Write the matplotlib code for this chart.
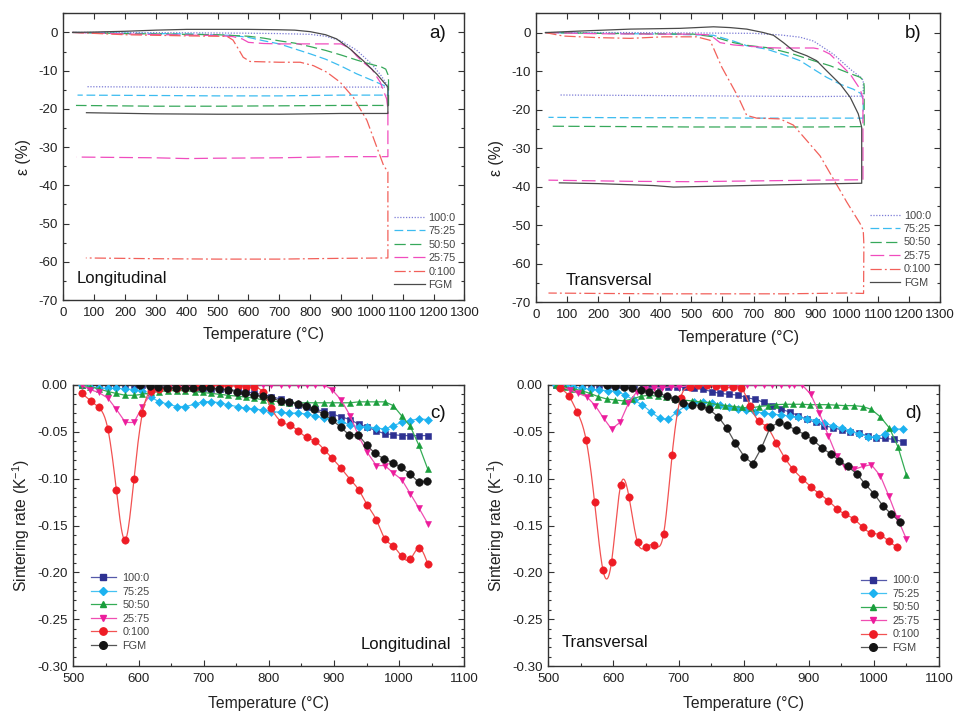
import numpy as np
import matplotlib
matplotlib.use("Agg")
import matplotlib.pyplot as plt
from matplotlib.ticker import MultipleLocator, FormatStrFormatter

plt.rcParams['font.family'] = ['Liberation Sans', 'DejaVu Sans']
plt.rcParams['axes.unicode_minus'] = False
plt.rcParams['mathtext.default'] = 'regular'

labels = ['100:0', '75:25', '50:50', '25:75', '0:100', 'FGM']

# ---------------- dilatometric strain, longitudinal (a) ----------------
a_T_100 = [30, 200, 400, 600, 700, 800, 850, 900, 950, 1000, 1030, 1050, 1052, 900, 700, 500, 300, 78]
a_E_100 = [0, 0, -0.1, -0.2, -0.3, -0.5, -1.0, -2.2, -4.6, -8.3, -11.3, -13.8, -14.3, -14.3, -14.4, -14.4, -14.3, -14.2]
a_T_75 = [30, 200, 400, 550, 600, 650, 700, 750, 800, 850, 900, 950, 1000, 1040, 1050, 1053, 1053, 900, 700, 500, 300, 46]
a_E_75 = [0, -0.2, -0.4, -0.8, -1.3, -2.2, -3.0, -4.3, -5.6, -7.0, -8.8, -10.8, -12.5, -13.9, -14.4, -15.0, -16.4, -16.4, -16.6, -16.6, -16.5, -16.4]
a_T_50 = [30, 200, 400, 500, 550, 600, 650, 700, 750, 800, 850, 900, 950, 1000, 1030, 1045, 1052, 1054, 1054, 900, 700, 500, 300, 41]
a_E_50 = [0, -0.3, -0.5, -0.6, -0.8, -1.0, -1.5, -2.2, -2.8, -3.7, -4.7, -5.9, -7.2, -8.4, -9.0, -9.6, -11.0, -12.5, -19.1, -19.1, -19.2, -19.3, -19.3, -19.1]
a_T_25 = [30, 200, 400, 500, 550, 580, 600, 650, 700, 800, 900, 930, 950, 975, 1000, 1027, 1048, 1052, 1052, 900, 700, 500, 400, 300, 43]
a_E_25 = [0, -0.4, -0.7, -0.8, -1.1, -1.7, -2.6, -2.9, -3.0, -3.0, -3.0, -4.2, -6.1, -8.0, -9.6, -13.0, -17.4, -20.0, -32.5, -32.5, -32.8, -32.9, -33.0, -32.8, -32.6]
a_T_0 = [30, 200, 400, 500, 530, 550, 565, 583, 605, 700, 768, 811, 854, 897, 940, 984, 1016, 1038, 1052, 1052, 900, 700, 500, 300, 73]
a_E_0 = [0, -0.6, -0.9, -1.0, -1.0, -2.0, -4.0, -6.5, -7.6, -7.8, -7.8, -8.7, -10.4, -13.0, -17.0, -23.0, -30.0, -34.8, -36.5, -59.0, -59.1, -59.3, -59.3, -59.2, -59.0]
a_T_F = [30, 100, 200, 300, 400, 500, 600, 700, 750, 800, 850, 886, 929, 972, 1016, 1048, 1052, 1052, 900, 700, 500, 300, 75]
a_E_F = [0, 0.1, 0.3, 0.6, 0.8, 0.8, 0.8, 0.7, 0.6, 0.2, -0.6, -1.7, -4.3, -7.4, -10.9, -13.9, -14.3, -21.2, -21.2, -21.4, -21.4, -21.3, -21.0]

# ---------------- dilatometric strain, transversal (b) ----------------
b_T_100 = [30, 300, 500, 700, 785, 850, 893, 957, 1011, 1048, 1053, 1053, 900, 700, 500, 300, 75]
b_E_100 = [0, 0, -0.1, -0.2, -0.6, -1.2, -2.2, -5.6, -9.5, -11.8, -12.5, -16.5, -16.6, -16.5, -16.4, -16.3, -16.2]
b_T_75 = [30, 200, 421, 571, 635, 678, 742, 807, 850, 893, 935, 979, 1021, 1045, 1053, 1053, 900, 700, 500, 300, 40]
b_E_75 = [0, -0.2, -0.4, -0.7, -2.2, -3.4, -4.3, -6.0, -7.3, -9.5, -11.6, -13.4, -14.7, -15.8, -17.5, -22.2, -22.2, -22.2, -22.1, -22.1, -22.0]
b_T_50 = [30, 200, 506, 571, 635, 678, 742, 785, 828, 893, 946, 1000, 1043, 1054, 1056, 1056, 900, 700, 500, 300, 40]
b_E_50 = [0, -0.2, -0.4, -1.1, -2.6, -3.3, -3.9, -4.7, -5.6, -7.3, -8.6, -10.3, -11.6, -12.5, -14.0, -24.4, -24.5, -24.5, -24.5, -24.4, -24.3]
b_T_25 = [30, 200, 400, 506, 560, 592, 635, 742, 785, 893, 914, 946, 979, 1011, 1043, 1052, 1052, 900, 700, 500, 300, 40]
b_E_25 = [0, -0.3, -0.4, -0.4, -0.6, -2.6, -3.2, -3.9, -4.0, -4.0, -4.3, -5.6, -8.2, -10.8, -14.7, -17.0, -38.2, -38.3, -38.5, -38.7, -38.6, -38.3]
b_T_0 = [30, 88, 195, 303, 410, 517, 560, 598, 651, 678, 710, 785, 828, 871, 914, 957, 1000, 1043, 1053, 1055, 1054, 1000, 800, 600, 400, 200, 40]
b_E_0 = [0, -0.9, -1.3, -1.5, -1.1, -1.1, -2.0, -9.0, -16.8, -21.5, -22.2, -22.4, -24.0, -28.0, -32.0, -38.0, -44.0, -49.6, -51.3, -55.0, -67.7, -67.6, -67.8, -67.8, -67.8, -67.7, -67.6]
b_T_F = [30, 142, 303, 464, 571, 624, 678, 732, 764, 796, 828, 871, 903, 935, 979, 1011, 1037, 1048, 1048, 900, 678, 500, 442, 378, 200, 75]
b_E_F = [0, 0.4, 0.9, 1.1, 1.5, 1.3, 0.9, 0, -0.7, -2.6, -4.7, -6.0, -7.3, -9.9, -13.4, -16.8, -21.1, -24.6, -39.1, -39.3, -39.7, -40.0, -40.1, -39.7, -39.2, -39.0]

# ---------------- sintering rate, longitudinal (c) ----------------
c_T_100 = [513, 526, 539, 553, 566, 580, 593, 606, 619, 632, 646, 659, 672, 686, 699, 712, 725, 738, 752, 765, 778, 791, 804, 818, 831, 845, 858, 871, 885, 897, 911, 925, 938, 951, 965, 978, 991, 1004, 1017, 1030, 1044]
c_R_100 = [0, 0, 0, 0, 0, 0, 0, -0.0005, -0.001, -0.001, -0.002, -0.002, -0.002, -0.003, -0.003, -0.004, -0.004, -0.005, -0.006, -0.007, -0.009, -0.010, -0.0125, -0.015, -0.018, -0.021, -0.023, -0.026, -0.028, -0.031, -0.034, -0.037, -0.042, -0.045, -0.049, -0.052, -0.053, -0.054, -0.054, -0.054, -0.054]
c_T_75 = [513, 526, 539, 553, 566, 580, 593, 606, 619, 632, 646, 659, 672, 686, 699, 712, 725, 738, 752, 765, 778, 791, 804, 818, 831, 845, 858, 871, 885, 897, 911, 925, 938, 951, 965, 978, 991, 1004, 1017, 1030, 1044]
c_R_75 = [0, -0.002, -0.003, -0.0035, -0.0036, -0.004, -0.005, -0.006, -0.013, -0.018, -0.0206, -0.023, -0.023, -0.0206, -0.0178, -0.0178, -0.019, -0.0214, -0.023, -0.025, -0.0256, -0.0267, -0.0285, -0.029, -0.030, -0.030, -0.031, -0.033, -0.0356, -0.037, -0.039, -0.043, -0.0445, -0.0445, -0.046, -0.047, -0.0434, -0.040, -0.038, -0.036, -0.037]
c_T_50 = [513, 526, 539, 553, 566, 580, 593, 606, 619, 632, 646, 659, 672, 686, 699, 712, 725, 738, 752, 765, 778, 791, 804, 818, 831, 845, 858, 871, 885, 897, 911, 925, 938, 951, 965, 978, 991, 1004, 1017, 1030, 1044]
c_R_50 = [0, -0.002, -0.004, -0.007, -0.009, -0.011, -0.011, -0.010, -0.008, -0.007, -0.006, -0.006, -0.006, -0.007, -0.008, -0.009, -0.010, -0.011, -0.012, -0.013, -0.014, -0.016, -0.017, -0.018, -0.019, -0.019, -0.019, -0.019, -0.019, -0.019, -0.019, -0.019, -0.018, -0.018, -0.018, -0.018, -0.022, -0.033, -0.044, -0.064, -0.090]
c_T_25 = [513, 526, 539, 553, 566, 580, 593, 606, 619, 632, 646, 659, 672, 686, 699, 712, 725, 738, 752, 765, 778, 791, 804, 818, 831, 845, 858, 871, 885, 897, 911, 925, 938, 951, 965, 978, 991, 1004, 1017, 1030, 1044]
c_R_25 = [0, -0.005, -0.008, -0.014, -0.026, -0.040, -0.040, -0.023, -0.009, -0.004, -0.003, -0.002, -0.002, -0.001, 0, 0, 0, 0, 0, 0, 0, 0, 0, 0, 0, 0, 0, 0, 0, -0.005, -0.016, -0.033, -0.055, -0.072, -0.086, -0.086, -0.094, -0.101, -0.116, -0.131, -0.148]
c_T_0 = [513, 527, 539, 553, 566, 580, 593, 606, 619, 632, 646, 659, 672, 686, 699, 712, 725, 738, 752, 765, 778, 791, 804, 819, 832, 845, 858, 871, 885, 897, 911, 925, 938, 951, 965, 978, 991, 1004, 1017, 1030, 1044]
c_R_0 = [-0.009, -0.017, -0.024, -0.047, -0.112, -0.165, -0.100, -0.030, -0.006, -0.004, -0.003, -0.003, -0.003, -0.002, -0.001, 0, 0, -0.001, -0.001, -0.002, -0.002, -0.008, -0.025, -0.039, -0.043, -0.049, -0.056, -0.060, -0.069, -0.078, -0.089, -0.101, -0.112, -0.128, -0.144, -0.164, -0.172, -0.183, -0.186, -0.174, -0.191]
c_T_F = [602, 617, 630, 643, 657, 671, 684, 697, 710, 724, 738, 751, 764, 777, 791, 804, 818, 831, 844, 857, 870, 884, 897, 910, 923, 937, 950, 963, 977, 990, 1003, 1017, 1030, 1043]
c_R_F = [0, -0.0007, -0.0018, -0.0028, -0.003, -0.0036, -0.003, -0.003, -0.003, -0.004, -0.005, -0.007, -0.009, -0.011, -0.012, -0.014, -0.017, -0.018, -0.020, -0.022, -0.026, -0.031, -0.037, -0.045, -0.053, -0.053, -0.064, -0.073, -0.079, -0.083, -0.088, -0.095, -0.104, -0.102]

# ---------------- sintering rate, transversal (d) ----------------
d_T_100 = [512, 525, 538, 552, 565, 578, 592, 605, 618, 632, 645, 658, 671, 684, 697, 710, 723, 737, 751, 764, 778, 791, 804, 818, 831, 844, 857, 871, 884, 897, 911, 924, 937, 951, 964, 977, 991, 1004, 1017, 1031, 1044]
d_R_100 = [0, 0, 0, 0, 0, 0, 0, 0, 0, 0, 0, -0.001, -0.001, -0.002, -0.002, -0.0025, -0.003, -0.0046, -0.007, -0.009, -0.010, -0.0107, -0.0135, -0.0153, -0.0185, -0.022, -0.0256, -0.029, -0.0327, -0.0367, -0.040, -0.0434, -0.0456, -0.048, -0.050, -0.0516, -0.0545, -0.057, -0.057, -0.058, -0.0605]
d_T_75 = [512, 525, 538, 552, 565, 578, 592, 605, 618, 631, 644, 658, 671, 684, 698, 711, 724, 738, 751, 764, 778, 791, 804, 818, 831, 844, 857, 871, 884, 897, 911, 924, 937, 951, 964, 977, 991, 1004, 1017, 1031, 1044]
d_R_75 = [0, 0, -0.002, -0.0036, -0.0045, -0.0053, -0.006, -0.007, -0.0107, -0.016, -0.021, -0.029, -0.0356, -0.0367, -0.0285, -0.0224, -0.0185, -0.0178, -0.0189, -0.021, -0.023, -0.0256, -0.027, -0.0285, -0.030, -0.031, -0.032, -0.033, -0.0345, -0.036, -0.038, -0.041, -0.0434, -0.046, -0.049, -0.052, -0.055, -0.056, -0.052, -0.047, -0.047]
d_T_50 = [512, 525, 538, 551, 564, 577, 590, 603, 616, 629, 642, 655, 668, 681, 694, 707, 720, 733, 746, 759, 772, 785, 798, 811, 824, 837, 850, 863, 876, 889, 902, 916, 929, 942, 955, 969, 983, 996, 1010, 1024, 1037, 1050]
d_R_50 = [0, -0.002, -0.004, -0.006, -0.009, -0.0125, -0.015, -0.016, -0.017, -0.015, -0.012, -0.011, -0.012, -0.013, -0.015, -0.016, -0.017, -0.018, -0.019, -0.021, -0.022, -0.023, -0.024, -0.0246, -0.023, -0.022, -0.021, -0.0206, -0.0206, -0.0206, -0.021, -0.021, -0.021, -0.0215, -0.022, -0.022, -0.023, -0.026, -0.034, -0.046, -0.066, -0.096]
d_T_25 = [520, 533, 546, 559, 572, 585, 597, 610, 623, 636, 649, 662, 675, 688, 701, 714, 727, 740, 753, 766, 779, 792, 805, 818, 831, 844, 857, 870, 877, 890, 903, 916, 930, 943, 956, 970, 983, 996, 1010, 1023, 1036, 1050]
d_R_25 = [-0.002, -0.005, -0.009, -0.0125, -0.022, -0.0356, -0.047, -0.040, -0.0196, -0.007, -0.004, -0.003, -0.003, -0.002, -0.002, -0.001, 0, 0, 0, 0, 0, 0, 0, 0, 0, 0, 0, 0, 0, 0, -0.010, -0.0295, -0.054, -0.076, -0.088, -0.090, -0.087, -0.085, -0.097, -0.1185, -0.142, -0.1645]
d_T_0 = [518, 531, 544, 558, 571, 584, 597, 611, 624, 637, 650, 663, 677, 690, 703, 717, 730, 743, 757, 770, 783, 796, 810, 823, 836, 850, 863, 876, 890, 903, 916, 930, 943, 956, 970, 983, 996, 1010, 1023, 1036]
d_R_0 = [-0.0036, -0.0114, -0.0285, -0.0587, -0.125, -0.198, -0.189, -0.107, -0.120, -0.168, -0.173, -0.171, -0.159, -0.075, -0.014, -0.0025, 0, 0, -0.001, -0.002, -0.0025, -0.003, -0.0224, -0.0384, -0.045, -0.0616, -0.0776, -0.090, -0.100, -0.1085, -0.116, -0.1235, -0.132, -0.138, -0.1434, -0.152, -0.158, -0.160, -0.167, -0.173]
d_T_F = [590, 602, 616, 629, 642, 655, 669, 682, 694, 707, 721, 734, 747, 761, 774, 787, 801, 814, 827, 841, 854, 867, 880, 894, 907, 920, 934, 947, 960, 974, 987, 1000, 1014, 1027, 1040]
d_R_F = [0, -0.0007, -0.0018, -0.0036, -0.0053, -0.007, -0.009, -0.0117, -0.015, -0.019, -0.021, -0.022, -0.026, -0.034, -0.046, -0.062, -0.0765, -0.084, -0.0676, -0.045, -0.040, -0.043, -0.048, -0.053, -0.059, -0.067, -0.0737, -0.081, -0.087, -0.095, -0.106, -0.116, -0.129, -0.138, -0.146]

# ---------------- styles ----------------
strain_colors = ['#7b7bd6', '#3cbcf0', '#36a85a', '#f04cbe', '#f2605a', '#4a4a4a']
strain_dashes = [(0, (1, 1.3)), (0, (7, 3)), (0, (9, 3.5)), (0, (11, 4)), (0, (9, 2.5, 1.5, 2.5)), '-']
rate_mcolors = ['#2e3192', '#1cb2f0', '#1a9e3c', '#ec1c9c', '#ee1c25', '#141414']
rate_lcolors = ['#5559aa', '#45c2f2', '#34ac55', '#f04eb2', '#f25252', '#555555']
rate_markers = ['s', 'D', '^', 'v', 'o', 'o']
rate_msizes = [4.2, 4.2, 5.0, 5.0, 5.3, 5.5]

txt_col = '#222222'
tick_fs = 9.6
label_fs = 11.3
leg_fs = 7.8


def smooth_curve(x, y, n=500):
    """Natural cubic spline through the points (draws the smooth connecting line)."""
    x = np.asarray(x, float)
    y = np.asarray(y, float)
    m = len(x)
    h = np.diff(x)
    A = np.zeros((m, m))
    b = np.zeros(m)
    A[0, 0] = A[-1, -1] = 1.0
    for i in range(1, m - 1):
        A[i, i - 1] = h[i - 1]
        A[i, i] = 2 * (h[i - 1] + h[i])
        A[i, i + 1] = h[i]
        b[i] = 3 * ((y[i + 1] - y[i]) / h[i] - (y[i] - y[i - 1]) / h[i - 1])
    c = np.linalg.solve(A, b)
    xs = np.linspace(x[0], x[-1], n)
    idx = np.clip(np.searchsorted(x, xs) - 1, 0, m - 2)
    dx = xs - x[idx]
    bc = (y[idx + 1] - y[idx]) / h[idx] - h[idx] * (2 * c[idx] + c[idx + 1]) / 3
    dc = (c[idx + 1] - c[idx]) / (3 * h[idx])
    ys = y[idx] + bc * dx + c[idx] * dx ** 2 + dc * dx ** 3
    return xs, ys


def style_axes(ax, xmajor, xminor, ymajor, yminor):
    ax.xaxis.set_major_locator(MultipleLocator(xmajor))
    ax.yaxis.set_major_locator(MultipleLocator(ymajor))
    if xminor:
        ax.xaxis.set_minor_locator(MultipleLocator(xminor))
    if yminor:
        ax.yaxis.set_minor_locator(MultipleLocator(yminor))
    ax.tick_params(which='both', direction='in', top=True, right=True,
                   colors='#333333', labelcolor=txt_col, labelsize=tick_fs, width=0.8)
    ax.tick_params(which='major', length=4)
    ax.tick_params(which='minor', length=2.2)
    ax.tick_params(axis='x', pad=5)
    ax.tick_params(axis='y', pad=4)
    for sp in ax.spines.values():
        sp.set_color('#333333')
        sp.set_linewidth(1.0)


fig = plt.figure(figsize=(9.55, 7.16), dpi=100)

ax_a = fig.add_axes([0.0663, 0.581, 0.420, 0.4004])
ax_b = fig.add_axes([0.5613, 0.5778, 0.423, 0.4036])
ax_c = fig.add_axes([0.0768, 0.0698, 0.4094, 0.3925])
ax_d = fig.add_axes([0.5742, 0.0698, 0.409, 0.3925])

strain_sets = {
    ax_a: [(a_T_100, a_E_100), (a_T_75, a_E_75), (a_T_50, a_E_50),
           (a_T_25, a_E_25), (a_T_0, a_E_0), (a_T_F, a_E_F)],
    ax_b: [(b_T_100, b_E_100), (b_T_75, b_E_75), (b_T_50, b_E_50),
           (b_T_25, b_E_25), (b_T_0, b_E_0), (b_T_F, b_E_F)],
}
strain_leg_anchor = {ax_a: (0.978, 0.035), ax_b: (0.978, 0.05)}

for ax, sets in strain_sets.items():
    for i, (T, E) in enumerate(sets):
        ax.plot(T, E, color=strain_colors[i], linestyle=strain_dashes[i],
                lw=0.9, label=labels[i])
    ax.set_xlim(0, 1300)
    ax.set_ylim(-70, 5)
    style_axes(ax, 100, None, 10, 5)
    ax.set_xlabel('Temperature (°C)', fontsize=label_fs, color=txt_col, labelpad=6)
    ax.set_ylabel('ε (%)', fontsize=label_fs, color=txt_col, labelpad=5)
    leg = ax.legend(loc='lower right', frameon=False, fontsize=leg_fs,
                    handlelength=2.8, handletextpad=0.35, labelspacing=0.32,
                    borderpad=0, borderaxespad=0,
                    bbox_to_anchor=strain_leg_anchor[ax])
    for t in leg.get_texts():
        t.set_color('#444444')

rate_sets = {
    ax_c: [(c_T_100, c_R_100), (c_T_75, c_R_75), (c_T_50, c_R_50),
           (c_T_25, c_R_25), (c_T_0, c_R_0), (c_T_F, c_R_F)],
    ax_d: [(d_T_100, d_R_100), (d_T_75, d_R_75), (d_T_50, d_R_50),
           (d_T_25, d_R_25), (d_T_0, d_R_0), (d_T_F, d_R_F)],
}

for ax, sets in rate_sets.items():
    for i, (T, R) in enumerate(sets):
        if labels[i] == '0:100':
            xs, ys = smooth_curve(T, R)
            ax.plot(xs, ys, color=rate_lcolors[i], lw=0.9, zorder=2 + i)
        else:
            ax.plot(T, R, color=rate_lcolors[i], lw=0.9, zorder=2 + i)
        ax.plot(T, R, linestyle='none', marker=rate_markers[i], ms=rate_msizes[i],
                mfc=rate_mcolors[i], mec=rate_mcolors[i], mew=0.4, zorder=2.5 + i)
        # legend proxy
        ax.plot([], [], color=rate_lcolors[i], lw=0.9, marker=rate_markers[i],
                ms=rate_msizes[i], mfc=rate_mcolors[i], mec=rate_mcolors[i],
                label=labels[i])
    ax.set_xlim(500, 1100)
    ax.set_ylim(-0.30, 0.0)
    style_axes(ax, 100, 50, 0.05, 0.01)
    ax.yaxis.set_major_formatter(FormatStrFormatter('%.2f'))
    ax.set_xlabel('Temperature (°C)', fontsize=label_fs, color=txt_col, labelpad=8)
    ax.set_ylabel('Sintering rate (K$^{-1}$)', fontsize=label_fs, color=txt_col, labelpad=4)

leg_c = ax_c.legend(loc='upper left', frameon=False, fontsize=leg_fs,
                    handlelength=2.3, handletextpad=0.6, labelspacing=0.32,
                    borderpad=0, borderaxespad=0, bbox_to_anchor=(0.045, 0.33))
leg_d = ax_d.legend(loc='lower right', frameon=False, fontsize=leg_fs,
                    handlelength=2.3, handletextpad=0.6, labelspacing=0.32,
                    borderpad=0, borderaxespad=0, bbox_to_anchor=(0.95, 0.047))
for leg in (leg_c, leg_d):
    for t in leg.get_texts():
        t.set_color('#444444')

# panel tags and orientation notes
ax_a.text(0.953, 0.93, 'a)', transform=ax_a.transAxes, ha='right', va='center', fontsize=13.5, color='#111111')
ax_b.text(0.955, 0.93, 'b)', transform=ax_b.transAxes, ha='right', va='center', fontsize=13.5, color='#111111')
ax_c.text(0.953, 0.90, 'c)', transform=ax_c.transAxes, ha='right', va='center', fontsize=13.5, color='#111111')
ax_d.text(0.955, 0.90, 'd)', transform=ax_d.transAxes, ha='right', va='center', fontsize=13.5, color='#111111')

ax_a.text(0.033, 0.075, 'Longitudinal', transform=ax_a.transAxes, ha='left', va='center', fontsize=12, color='#111111')
ax_b.text(0.072, 0.075, 'Transversal', transform=ax_b.transAxes, ha='left', va='center', fontsize=12, color='#111111')
ax_c.text(0.965, 0.078, 'Longitudinal', transform=ax_c.transAxes, ha='right', va='center', fontsize=12, color='#111111')
ax_d.text(0.035, 0.082, 'Transversal', transform=ax_d.transAxes, ha='left', va='center', fontsize=12, color='#111111')

fig.savefig('out.png', dpi=100)
